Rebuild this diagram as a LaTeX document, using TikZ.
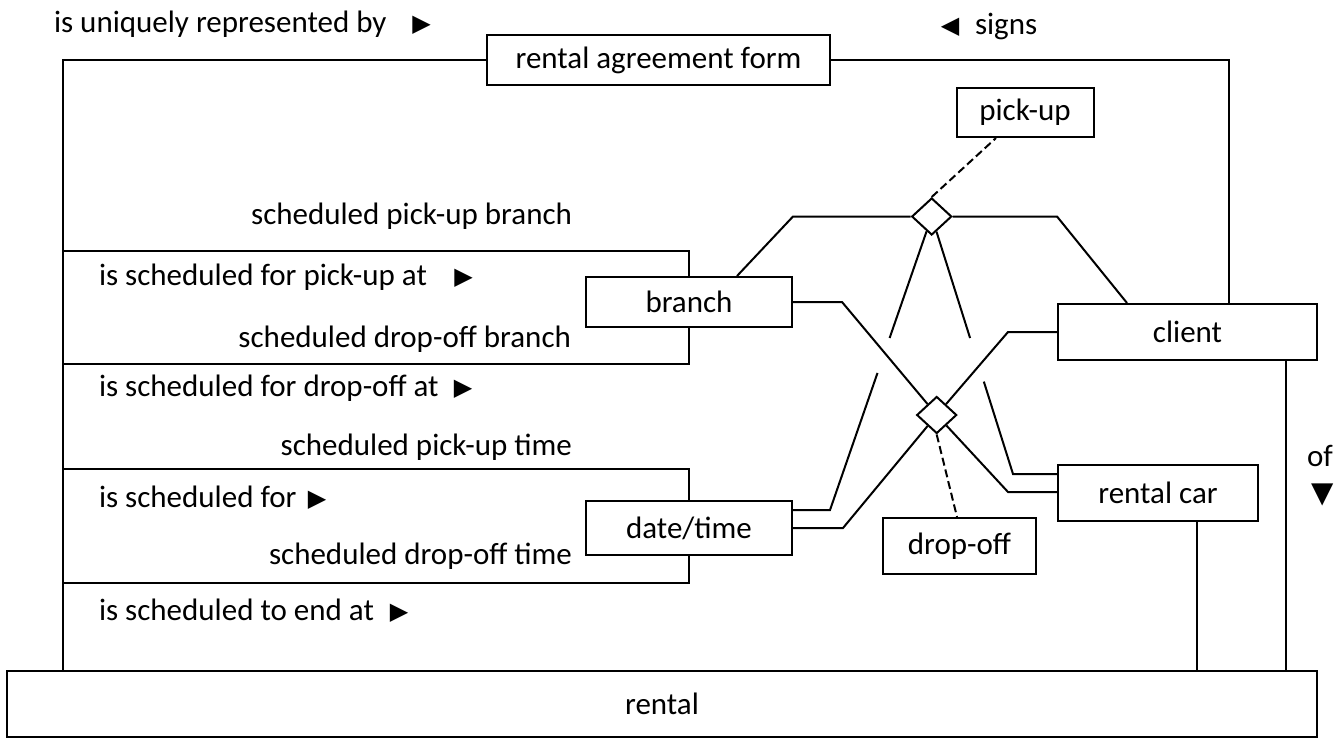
\documentclass[tikz,border=0pt]{standalone}
\usepackage{fontspec}
\setmainfont{Carlito}
\newfontfamily\trifont{DejaVu Sans}
\usetikzlibrary{shapes.geometric,calc}
\begin{document}
\begin{tikzpicture}[x=1pt,y=-1pt,line width=2pt,
  box/.style={draw,rectangle,inner sep=0pt,font=\fontsize{31}{37}\selectfont},
  lbl/.style={inner sep=0pt,font=\fontsize{31}{37}\selectfont,text height=23pt,text depth=8pt},
  tri/.style={inner sep=0pt,font=\trifont\fontsize{24}{26}\selectfont},
  trid/.style={inner sep=0pt,font=\trifont\fontsize{29}{30}\selectfont},
  rel/.style={draw,diamond,minimum width=40pt,minimum height=37pt,inner sep=0pt},
  dashlink/.style={dash pattern=on 8pt off 4pt}]
\useasboundingbox (0,0) rectangle (1337,742);
% entity boxes
\node[box,minimum width=343,minimum height=50] (raf) at (658.5,60) {rental agreement form};
\node[box,minimum width=137,minimum height=49] (pu) at (1025,112.5) {pick-up};
\node[box,minimum width=206,minimum height=50] (br) at (689,302) {branch};
\node[box,minimum width=259,minimum height=56] (cl) at (1187.5,332) {client};
\node[box,minimum width=200,minimum height=56] (rc) at (1158,493) {rental car};
\node[box,minimum width=206,minimum height=54] (dt) at (689,528) {date/time};
\node[box,minimum width=153,minimum height=56] (do) at (959.5,546) {drop-off};
\node[box,minimum width=1310,minimum height=66] (re) at (662,704) {rental};
% relationship diamonds
\node[rel] (d1) at (931.7,216.5) {};
\node[rel] (d2) at (936.7,415) {};
% helper coordinates
\coordinate (L) at (63,60);
\coordinate (R) at (1229,60);
\coordinate (b1) at (63,251);
\coordinate (b2) at (63,364);
\coordinate (b3) at (63,469);
\coordinate (b4) at (63,583);
\coordinate (xc) at (1286,0);
\coordinate (xr) at (1197,0);
\coordinate (k1) at (793,216.5);
\coordinate (k1e) at (737,0);
\coordinate (k2) at (1057,216.5);
\coordinate (k2e) at (1127,0);
\coordinate (k3) at (830,510);
\coordinate (k4) at (1013,474);
\coordinate (k5) at (842,302);
\coordinate (k6) at (1008,492);
\coordinate (k7) at (1008,332);
\coordinate (k8) at (843,528);
\coordinate (pe) at (996,0);
\coordinate (de) at (957,0);
% outer connectors
\draw (raf.west) -- (L) -- (L |- re.north);
\draw (raf.east) -- (R) -- (R |- cl.north);
\draw (b1) -- (b1 -| br.north) -- (br.north);
\draw (br.south) -- (br.south |- b2) -- (b2);
\draw (b3) -- (b3 -| dt.north) -- (dt.north);
\draw (dt.south) -- (dt.south |- b4) -- (b4);
\draw (cl.south -| xc) -- (re.north -| xc);
\draw (rc.south -| xr) -- (re.north -| xr);
% pick-up relationship
\draw (d1.west) -- (k1) -- (br.north -| k1e);
\draw (d1.east) -- (k2) -- (cl.north -| k2e);
\draw (d1) -- ($(d1)!0.414!(k3)$);
\draw ($(d1)!0.533!(k3)$) -- (k3) -- (k3 -| dt.east);
\draw (d1) -- ($(d1)!0.472!(k4)$);
\draw ($(d1)!0.641!(k4)$) -- (k4) -- (k4 -| rc.west);
\draw[dashlink] (d1.north) -- (pu.south -| pe);
% drop-off relationship
\draw (br.east) -- (k5) -- (d2);
\draw (d2) -- (k6) -- (k6 -| rc.west);
\draw (cl.west) -- (k7) -- (d2);
\draw (dt.east) -- (k8) -- (d2);
\draw[dashlink] (d2.south) -- (do.north -| de);
% role and reading labels
\node[lbl,anchor=west] (t1) at (53,25) {is uniquely represented by};
\node[tri] (a1) at (421.5,25) {▶};
\node[tri] (a2) at (950,27) {◀};
\node[lbl,anchor=west] (t2) at (974,27) {signs};
\node[lbl,anchor=east] (t3) at (573,217) {scheduled pick-up branch};
\node[lbl,anchor=west] (t4) at (98,278) {is scheduled for pick-up at};
\node[tri] (a3) at (463.5,278) {▶};
\node[lbl,anchor=east] (t5) at (572,340) {scheduled drop-off branch};
\node[lbl,anchor=west] (t6) at (98,389) {is scheduled for drop-off at};
\node[tri] (a4) at (463,389) {▶};
\node[lbl,anchor=east] (t7) at (573,448) {scheduled pick-up time};
\node[lbl,anchor=west] (t8) at (98,500) {is scheduled for};
\node[tri] (a5) at (317,500) {▶};
\node[lbl,anchor=east] (t9) at (573,557) {scheduled drop-off time};
\node[lbl,anchor=west] (t10) at (98,613) {is scheduled to end at};
\node[tri] (a6) at (399,613) {▶};
\node[lbl,anchor=west] (t11) at (1306,459) {of};
\node[trid] (a7) at (1323,495) {▼};
\end{tikzpicture}
\end{document}
